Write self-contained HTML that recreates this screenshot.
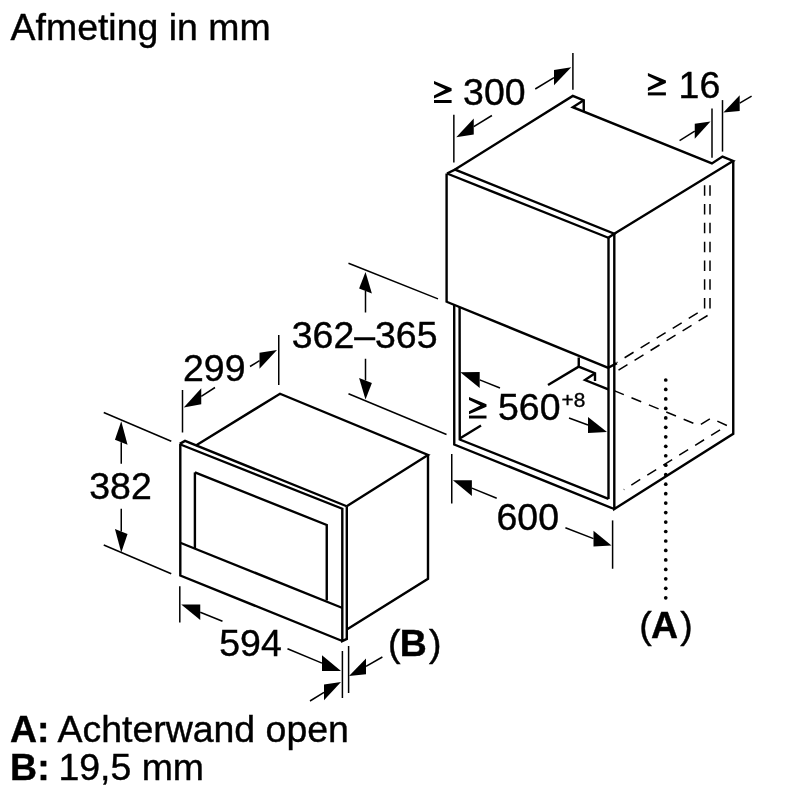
<!DOCTYPE html>
<html><head><meta charset="utf-8">
<style>
html,body{margin:0;padding:0;background:#fff;}
body{width:800px;height:800px;position:relative;overflow:hidden;}
svg{position:absolute;left:0;top:0;will-change:transform;}
.t{position:absolute;font-family:"Liberation Sans",sans-serif;font-size:36px;line-height:0;white-space:nowrap;color:#000;}
.t b{font-weight:bold;}
</style></head><body>
<svg width="800" height="800" viewBox="0 0 800 800">
<g fill="none" stroke="#000" stroke-linecap="butt" stroke-linejoin="miter" stroke-miterlimit="2.5">
<path d="M447,173.5 L608.3,237.75" stroke-width="2.4"/>
<path d="M446.6,173.5 L446.6,302.5" stroke-width="2.4"/>
<path d="M446.6,301.75 L608.3,367.8" stroke-width="2.4"/>
<path d="M608.5,237.75 L608.5,498.9" stroke-width="2.4"/>
<path d="M447,173.5 L455,169.6 L614.25,233.75 L608.3,237.75" stroke-width="2.4"/>
<path d="M455,169.6 L572.8,95.9 L583.75,100.3 L583.75,111.2" stroke-width="2.4"/>
<path d="M583.75,100.3 L572.8,107.2 L711.9,163.4 L722.5,156.6 L733.1,160.9 L614.25,233.75" stroke-width="2.4"/>
<path d="M733.25,160.9 L733.25,433.75 L614.3,509 L614.3,233.75" stroke-width="2.4"/>
<path d="M454.2,304.8 L454.25,444.5 L614.3,509" stroke-width="2.4"/>
<path d="M459.6,307 L459.75,439.5 L608.5,498.9" stroke-width="2.4"/>
<path d="M459.75,438.5 L481,425.5" stroke-width="2.4"/>
<path d="M548,385 L578.75,366.6" stroke-width="2.4"/>
<path d="M578.75,357.5 L578.75,366.6 L595,373.2 L595,381" stroke-width="2.4"/>
<path d="M595,373.2 L585,380 L608.3,389.4" stroke-width="2.4"/>
<path d="M608.3,367.8 L616.9,363.1" stroke-width="2.4"/>
<path d="M704.6,185.25 L704.6,308.75 L617,362.4" stroke-width="1.5" stroke-dasharray="10.5,8.3"/>
<path d="M710,185.25 L710,314 L617.5,370.8" stroke-width="1.5" stroke-dasharray="10.5,8.3"/>
<path d="M614.1,390.6 L699,425.5 L711,418.2 L727,425.5 L623.8,489.7" stroke-width="1.5" stroke-dasharray="10.5,8.3"/>
<path d="M180.3,443.9 L180.3,575.5 L342.3,641" stroke-width="2.4"/>
<path d="M179.75,443.9 L185,440.9 L346.7,506.25" stroke-width="2.4"/>
<path d="M180.5,444.5 L342.3,508.75 L342.3,641 L346.8,638.9 L346.8,506.25" stroke-width="2.4"/>
<path d="M195.9,445.4 L280,393.75 L428,455 L346.7,506.25" stroke-width="2.4"/>
<path d="M428,455 L428,578.75 L346.8,629.5" stroke-width="2.4"/>
<path d="M194.9,472.4 L326.75,525 L326.75,600.5" stroke-width="2.4"/>
<path d="M194.9,472.4 L194.9,548" stroke-width="2.4"/>
<path d="M180.3,542.75 L342.5,608" stroke-width="2.4"/>
<path d="M453.85,114.75 L453.85,162.4" stroke-width="1.5"/>
<path d="M572.9,53 L572.9,89.75" stroke-width="1.5"/>
<polygon points="456.25,137.25 473.75,134.573 473.75,118.573" fill="#000" stroke="none"/>
<path d="M473.75,126.573 L491.9,115.5" stroke-width="1.5"/>
<polygon points="571.25,67.25 554,85.2719 554,70.0719" fill="#000" stroke="none"/>
<path d="M554,77.6719 L535.25,89" stroke-width="1.5"/>
<path d="M712,108.6 L712,157.8" stroke-width="1.5"/>
<path d="M722.5,100.1 L722.5,151.6" stroke-width="1.5"/>
<polygon points="710.5,121.5 694.75,138.835 694.75,123.635" fill="#000" stroke="none"/>
<path d="M694.75,131.235 L679.6,140.6" stroke-width="1.5"/>
<polygon points="723.4,112.5 739.7,110.978 739.7,95.1784" fill="#000" stroke="none"/>
<path d="M739.7,103.078 L751.6,96.2" stroke-width="1.5"/>
<path d="M348.5,263.25 L438,298.9" stroke-width="1.5"/>
<path d="M348.5,393.75 L446.5,434.5" stroke-width="1.5"/>
<polygon points="365.5,272 371.9,293.5 359.1,288.5" fill="#000" stroke="none"/>
<path d="M365.5,291 L365.5,312.5" stroke-width="1.5"/>
<polygon points="365.5,399.5 371.9,383 359.1,378" fill="#000" stroke="none"/>
<path d="M365.5,380.5 L365.5,358.75" stroke-width="1.5"/>
<path d="M278.75,335 L278.75,385" stroke-width="1.5"/>
<path d="M182.5,390 L182.5,432.5" stroke-width="1.5"/>
<polygon points="277,350 259.5,368.694 259.5,352.694" fill="#000" stroke="none"/>
<path d="M259.5,360.694 L250,366.5" stroke-width="1.5"/>
<polygon points="183.75,407.5 201.25,404.3 201.25,388.3" fill="#000" stroke="none"/>
<path d="M201.25,396.3 L215,387.5" stroke-width="1.5"/>
<path d="M103.75,412.5 L171.25,441.25" stroke-width="1.5"/>
<path d="M103.75,545 L171.25,573.75" stroke-width="1.5"/>
<polygon points="121.25,421.25 127.55,444.85 114.95,439.65" fill="#000" stroke="none"/>
<path d="M121.25,442.25 L121.25,463.75" stroke-width="1.5"/>
<polygon points="121.25,552.5 127.55,534.1 114.95,528.9" fill="#000" stroke="none"/>
<path d="M121.25,531.5 L121.25,508.75" stroke-width="1.5"/>
<path d="M179.8,586.25 L179.8,622.5" stroke-width="1.5"/>
<path d="M342.4,651 L342.4,698" stroke-width="1.5"/>
<polygon points="181.25,604.5 200.25,620.015 200.25,604.415" fill="#000" stroke="none"/>
<path d="M200.25,612.215 L222.5,621.25" stroke-width="1.5"/>
<polygon points="341,671 322,670.898 322,655.298" fill="#000" stroke="none"/>
<path d="M322,663.098 L287.5,648.75" stroke-width="1.5"/>
<path d="M348.6,646 L348.6,693" stroke-width="1.5"/>
<polygon points="341,682 324,700.219 324,684.619" fill="#000" stroke="none"/>
<path d="M324,692.419 L310,701" stroke-width="1.5"/>
<polygon points="349,676 366,674.129 366,658.529" fill="#000" stroke="none"/>
<path d="M366,666.329 L382.4,657" stroke-width="1.5"/>
<path d="M451.75,454 L451.75,503.5" stroke-width="1.5"/>
<path d="M612.6,520.4 L612.6,568.75" stroke-width="1.5"/>
<polygon points="452.9,480.3 471.9,495.949 471.9,480.249" fill="#000" stroke="none"/>
<path d="M471.9,488.099 L496.75,498.3" stroke-width="1.5"/>
<polygon points="611.5,545.6 593.5,546.55 593.5,530.75" fill="#000" stroke="none"/>
<path d="M593.5,538.65 L565.4,527.8" stroke-width="1.5"/>
<polygon points="460.3,372.2 479.7,387.921 479.7,371.921" fill="#000" stroke="none"/>
<path d="M479.7,379.921 L500,388" stroke-width="1.5"/>
<polygon points="607,432 588,433 588,417" fill="#000" stroke="none"/>
<path d="M588,425 L569,418" stroke-width="1.5"/>
<circle cx="665.75" cy="380" r="1.85" fill="#000" stroke="none"/>
<circle cx="665.75" cy="389.47" r="1.85" fill="#000" stroke="none"/>
<circle cx="665.75" cy="398.94" r="1.85" fill="#000" stroke="none"/>
<circle cx="665.75" cy="408.41" r="1.85" fill="#000" stroke="none"/>
<circle cx="665.75" cy="417.88" r="1.85" fill="#000" stroke="none"/>
<circle cx="665.75" cy="427.35" r="1.85" fill="#000" stroke="none"/>
<circle cx="665.75" cy="436.82" r="1.85" fill="#000" stroke="none"/>
<circle cx="665.75" cy="446.29" r="1.85" fill="#000" stroke="none"/>
<circle cx="665.75" cy="455.76" r="1.85" fill="#000" stroke="none"/>
<circle cx="665.75" cy="465.23" r="1.85" fill="#000" stroke="none"/>
<circle cx="665.75" cy="474.7" r="1.85" fill="#000" stroke="none"/>
<circle cx="665.75" cy="484.17" r="1.85" fill="#000" stroke="none"/>
<circle cx="665.75" cy="493.64" r="1.85" fill="#000" stroke="none"/>
<circle cx="665.75" cy="503.11" r="1.85" fill="#000" stroke="none"/>
<circle cx="665.75" cy="512.58" r="1.85" fill="#000" stroke="none"/>
<circle cx="665.75" cy="522.05" r="1.85" fill="#000" stroke="none"/>
<circle cx="665.75" cy="531.52" r="1.85" fill="#000" stroke="none"/>
<circle cx="665.75" cy="540.99" r="1.85" fill="#000" stroke="none"/>
<circle cx="665.75" cy="550.46" r="1.85" fill="#000" stroke="none"/>
<circle cx="665.75" cy="559.93" r="1.85" fill="#000" stroke="none"/>
<circle cx="665.75" cy="569.4" r="1.85" fill="#000" stroke="none"/>
<circle cx="665.75" cy="578.87" r="1.85" fill="#000" stroke="none"/>
<circle cx="665.75" cy="588.34" r="1.85" fill="#000" stroke="none"/>
<circle cx="665.75" cy="597.81" r="1.85" fill="#000" stroke="none"/>
</g>
<g fill="#000" stroke="#000" stroke-width="0.4" font-family="Liberation Sans, sans-serif" font-size="36">
<text transform="translate(10.6,40) scale(1.04,1)" style="">Afmeting in mm</text>
<text transform="translate(463.1,105.1) scale(1.04,1)" style="">300</text>
<text transform="translate(678.6,97.7) scale(1.04,1)" style="">16</text>
<text transform="translate(291.75,348) scale(1.04,1)" style="">362&#8211;365</text>
<text transform="translate(183,381.25) scale(1.04,1)" style="">299</text>
<text transform="translate(89.25,498.75) scale(1.04,1)" style="">382</text>
<text transform="translate(219.25,656.25) scale(1.04,1)" style="">594</text>
<text transform="translate(496.5,530) scale(1.04,1)" style="">600</text>
<text transform="translate(498,420) scale(1.04,1)" style="">560</text>
<text transform="translate(561.5,406.6) scale(1.04,1)" style="font-size:20px">+8</text>
<text transform="translate(639.25,637.5) scale(1.04,1)" style="">(</text>
<text transform="translate(650.9,637.5) scale(1.04,1)" style="font-weight:bold">A</text>
<text transform="translate(680.25,637.5) scale(1.04,1)" style="">)</text>
<text transform="translate(388,656.3) scale(1.04,1)" style="">(</text>
<text transform="translate(399.75,656.3) scale(1.04,1)" style="font-weight:bold">B</text>
<text transform="translate(428.9,656.3) scale(1.04,1)" style="">)</text>
<text transform="translate(10,741.9) scale(1.04,1)" style="font-weight:bold">A:</text>
<text transform="translate(57.5,741.9) scale(1.04,1)" style="">Achterwand open</text>
<text transform="translate(10.1,780) scale(1.04,1)" style="font-weight:bold">B:</text>
<text transform="translate(58.4,780) scale(1.04,1)" style="">19,5 mm</text><polygon points="434,80.9 451.6,88.3 451.6,90.9 434,98.6 434,95.5 445.4,89.6 434,84" fill="#000" stroke="none"/><rect x="434" y="100" width="17.6" height="3" fill="#000" stroke="none"/><polygon points="647.9,72.9 665.9,80.4339 665.9,83.081 647.9,90.9204 647.9,87.7643 659.559,81.7575 647.9,76.0561" fill="#000" stroke="none"/><rect x="647.9" y="92.3457" width="18" height="3.0543" fill="#000" stroke="none"/><polygon points="469,397 486.5,404.199 486.5,406.729 469,414.219 469,411.204 480.335,405.464 469,400.016" fill="#000" stroke="none"/><rect x="469" y="415.581" width="17.5" height="2.91855" fill="#000" stroke="none"/>
</g>
</svg>
</body></html>
